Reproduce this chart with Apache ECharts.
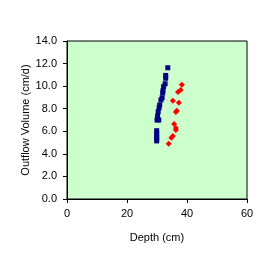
<!DOCTYPE html>
<html>
<head>
<meta charset="utf-8">
<script src="https://cdn.jsdelivr.net/npm/echarts@6/dist/echarts.min.js"></script>
<style>
  html, body { margin: 0; padding: 0; background: #fff; }
  #chart { width: 274px; height: 254px; }
</style>
</head>
<body>
<div id="chart"></div>
<script>
// blue series: depth (cm), outflow (cm/d)
const blueDepth = [33.6, 32.9, 32.9, 32.7, 32.2, 32.0, 31.9, 31.7, 31.3, 30.9, 30.7, 30.4, 30.2, 30.0, 30.6, 29.9, 29.9, 29.9, 29.9, 29.9];
const blueFlow  = [11.63, 10.95, 10.7, 10.21, 9.95, 9.6, 9.4, 8.97, 8.77, 8.33, 8.09, 7.74, 7.35, 7.0, 7.0, 6.05, 5.8, 5.55, 5.35, 5.15];
// red series
const redDepth = [38.3, 37.9, 37.0, 35.3, 37.3, 36.6, 36.3, 35.7, 36.3, 36.3, 35.3, 34.8, 33.9];
const redFlow  = [10.13, 9.65, 9.48, 8.71, 8.53, 7.82, 7.71, 6.64, 6.29, 6.11, 5.58, 5.43, 4.9];

const xTicks = [0, 20, 40, 60];
const yMax = 14;

const pair = (xs, ys) => xs.map((x, i) => [x, ys[i]]);

const chart = echarts.init(document.getElementById('chart'));
const font = 'Liberation Sans, Arial, sans-serif';
chart.setOption({
  animation: false,
  textStyle: { fontFamily: font },
  grid: {
    left: 67, right: 27, top: 41, bottom: 55,
    show: true, backgroundColor: '#ccffcc', borderColor: '#000', borderWidth: 1
  },
  xAxis: {
    type: 'value', min: xTicks[0], max: xTicks[xTicks.length - 1], interval: 20,
    name: 'Depth (cm)', nameLocation: 'middle', nameGap: 33, nameMoveOverlap: false,
    nameTextStyle: { color: '#000', fontSize: 11, fontFamily: font },
    axisLine: { lineStyle: { color: '#000' } },
    axisTick: { length: 4, lineStyle: { color: '#000' } },
    axisLabel: { color: '#000', fontSize: 11, margin: 9, fontFamily: font },
    splitLine: { show: false }
  },
  yAxis: {
    type: 'value', min: 0, max: yMax, interval: 2,
    name: 'Outflow Volume (cm/d)', nameLocation: 'middle', nameGap: 36, nameMoveOverlap: false,
    nameTextStyle: { color: '#000', fontSize: 11, fontFamily: font },
    axisLine: { onZero: false, lineStyle: { color: '#000' } },
    axisTick: { length: 4, lineStyle: { color: '#000' } },
    axisLabel: { color: '#000', fontSize: 11, margin: 10, fontFamily: font,
      formatter: v => v.toFixed(1) },
    splitLine: { show: false }
  },
  series: [
    {
      type: 'scatter', data: pair(blueDepth, blueFlow),
      symbol: 'rect', symbolSize: 5,
      itemStyle: { color: '#000080', opacity: 1 }
    },
    {
      type: 'scatter', data: pair(redDepth, redFlow),
      symbol: 'diamond', symbolSize: 6,
      itemStyle: { color: '#ff0000', opacity: 1 }
    }
  ]
});
</script>
</body>
</html>
